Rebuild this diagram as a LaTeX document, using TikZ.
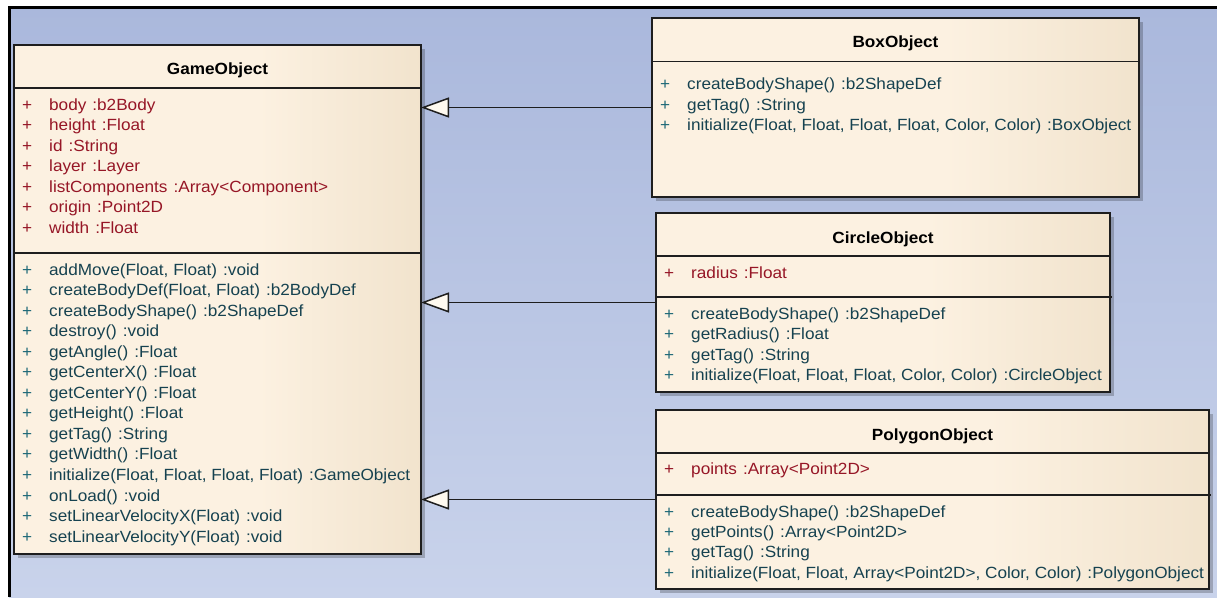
\documentclass[tikz,border=0pt]{standalone}
\usepackage{fontspec}
\setmainfont[FakeStretch=1.06]{Liberation Sans}
\usetikzlibrary{arrows.meta,shadows}
\definecolor{bgtop}{RGB}{170,184,220}
\definecolor{bgbot}{RGB}{201,211,235}
\definecolor{umlA}{RGB}{252,241,225}
\definecolor{umlB}{RGB}{228,210,180}
\definecolor{attrc}{RGB}{150,22,38}
\definecolor{methc}{RGB}{22,66,80}
\definecolor{plusm}{RGB}{30,105,120}
\definecolor{tipfill}{RGB}{255,250,240}
\definecolor{edgec}{RGB}{30,30,30}
\pgfdeclarehorizontalshading{umlfill}{100bp}{color(0bp)=(umlA); color(55bp)=(umlA); color(100bp)=(umlB)}
\newcommand\umlgap{\hspace{6pt}}
\newcommand\mrow[6]{%
  \node[mem,text=#4] (#1p) at (#2+8,#3) {+};
  \node[mem,text=#5] (#1) at (#2+35,#3) {#6};}
\tikzset{
  classbox/.style={draw=edgec, line width=1.4pt, shading=umlfill, anchor=north west,
    inner sep=0pt, outer sep=0pt,
    drop shadow={shadow xshift=4pt, shadow yshift=-4pt, fill=black, opacity=0.22}},
  ttl/.style={font=\fontsize{16.2}{20}\selectfont\bfseries, anchor=base, inner sep=0pt},
  mem/.style={font=\fontsize{16.2}{20}\selectfont, anchor=base west, inner sep=0pt},
  sepline/.style={draw=edgec, line width=1.4pt},
  gen/.style={draw=edgec, line width=1.5pt, -{Triangle[length=28pt,width=20pt,fill=tipfill]}},
}
\begin{document}
\begin{tikzpicture}[x=1pt,y=-1pt]
\useasboundingbox (0,0) rectangle (1217,597);
\fill[white] (0,0) rectangle (1217,597);
\shade[top color=bgtop, bottom color=bgbot] (9,7) rectangle (1217,597);
\draw[black, line width=2.6pt] (9.5,597) -- (9.5,7.5) -- (1217,7.5);

% ---------- GameObject ----------
\node[classbox, minimum width=407pt, minimum height=509pt] (go) at (14,45) {};
\node[ttl] (got) at (217.5,74) {GameObject};
\draw[sepline] (14,88) -- (421,88);
\draw[sepline] (14,253) -- (421,253);
\mrow{ga1}{14}{110}{attrc}{attrc}{body\umlgap:b2Body}
\mrow{ga2}{14}{130.5}{attrc}{attrc}{height\umlgap:Float}
\mrow{ga3}{14}{151}{attrc}{attrc}{id\umlgap:String}
\mrow{ga4}{14}{171.5}{attrc}{attrc}{layer\umlgap:Layer}
\mrow{ga5}{14}{192}{attrc}{attrc}{listComponents\umlgap:Array<Component>}
\mrow{ga6}{14}{212.5}{attrc}{attrc}{origin\umlgap:Point2D}
\mrow{ga7}{14}{233}{attrc}{attrc}{width\umlgap:Float}
\mrow{gm1}{14}{275}{plusm}{methc}{addMove(Float, Float)\umlgap:void}
\mrow{gm2}{14}{295.5}{plusm}{methc}{createBodyDef(Float, Float)\umlgap:b2BodyDef}
\mrow{gm3}{14}{316.1}{plusm}{methc}{createBodyShape()\umlgap:b2ShapeDef}
\mrow{gm4}{14}{336.6}{plusm}{methc}{destroy()\umlgap:void}
\mrow{gm5}{14}{357.2}{plusm}{methc}{getAngle()\umlgap:Float}
\mrow{gm6}{14}{377.7}{plusm}{methc}{getCenterX()\umlgap:Float}
\mrow{gm7}{14}{398.3}{plusm}{methc}{getCenterY()\umlgap:Float}
\mrow{gm8}{14}{418.8}{plusm}{methc}{getHeight()\umlgap:Float}
\mrow{gm9}{14}{439.4}{plusm}{methc}{getTag()\umlgap:String}
\mrow{gm10}{14}{459.9}{plusm}{methc}{getWidth()\umlgap:Float}
\mrow{gm11}{14}{480.5}{plusm}{methc}{initialize(Float, Float, Float, Float)\umlgap:GameObject}
\mrow{gm12}{14}{501}{plusm}{methc}{onLoad()\umlgap:void}
\mrow{gm13}{14}{521.6}{plusm}{methc}{setLinearVelocityX(Float)\umlgap:void}
\mrow{gm14}{14}{542.1}{plusm}{methc}{setLinearVelocityY(Float)\umlgap:void}

% ---------- BoxObject ----------
\node[classbox, minimum width=487pt, minimum height=179pt] (box) at (652,18) {};
\node[ttl] (boxt) at (895.5,47) {BoxObject};
\draw[sepline] (652,61.5) -- (1139,61.5);
\mrow{bm1}{652}{89.3}{plusm}{methc}{createBodyShape()\umlgap:b2ShapeDef}
\mrow{bm2}{652}{110}{plusm}{methc}{getTag()\umlgap:String}
\mrow{bm3}{652}{130.5}{plusm}{methc}{initialize(Float, Float, Float, Float, Color, Color)\umlgap:BoxObject}

% ---------- CircleObject ----------
\node[classbox, minimum width=454pt, minimum height=179pt] (circ) at (656,213) {};
\node[ttl] (circt) at (883,243) {CircleObject};
\draw[sepline] (656,256) -- (1110,256);
\draw[sepline] (656,297) -- (1112,297);
\mrow{ca1}{656}{278}{attrc}{attrc}{radius\umlgap:Float}
\mrow{cm1}{656}{319}{plusm}{methc}{createBodyShape()\umlgap:b2ShapeDef}
\mrow{cm2}{656}{339.5}{plusm}{methc}{getRadius()\umlgap:Float}
\mrow{cm3}{656}{360}{plusm}{methc}{getTag()\umlgap:String}
\mrow{cm4}{656}{380.5}{plusm}{methc}{initialize(Float, Float, Float, Color, Color)\umlgap:CircleObject}

% ---------- PolygonObject ----------
\node[classbox, minimum width=553pt, minimum height=179pt] (poly) at (656,410) {};
\node[ttl] (polyt) at (932.5,440) {PolygonObject};
\draw[sepline] (656,453) -- (1209,453);
\draw[sepline] (656,495) -- (1211,495);
\mrow{pa1}{656}{474}{attrc}{attrc}{points\umlgap:Array<Point2D>}
\mrow{pm1}{656}{517}{plusm}{methc}{createBodyShape()\umlgap:b2ShapeDef}
\mrow{pm2}{656}{537}{plusm}{methc}{getPoints()\umlgap:Array<Point2D>}
\mrow{pm3}{656}{557.5}{plusm}{methc}{getTag()\umlgap:String}
\mrow{pm4}{656}{578}{plusm}{methc}{initialize(Float, Float, Array<Point2D>, Color, Color)\umlgap:PolygonObject}

% ---------- generalizations ----------
\draw[gen] (box.west) -- (box.west -| go.east);
\draw[gen] (circ.west) -- (circ.west -| go.east);
\draw[gen] (poly.west) -- (poly.west -| go.east);
\end{tikzpicture}
\end{document}
